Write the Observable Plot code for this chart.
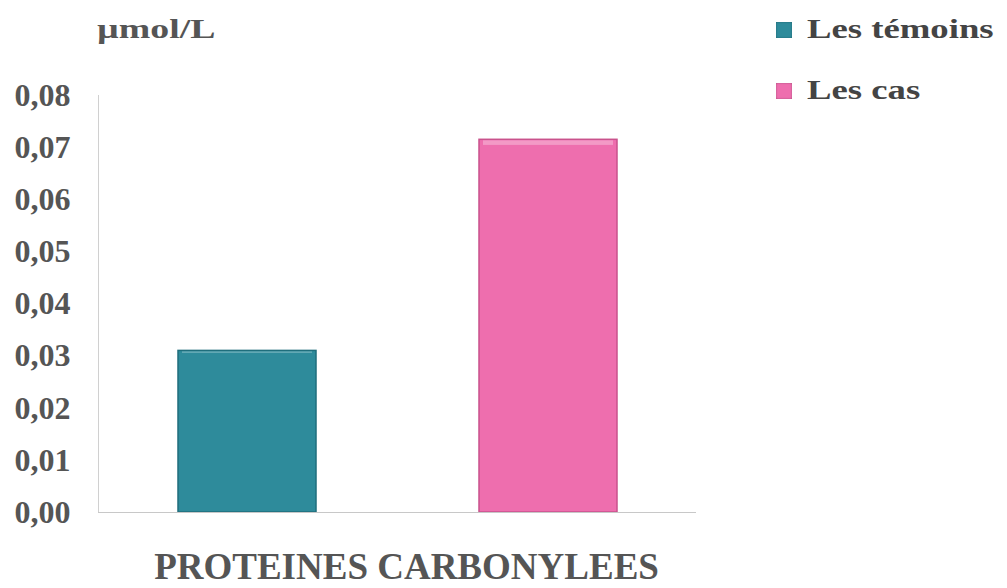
<!DOCTYPE html>
<html>
<head>
<meta charset="utf-8">
<script src="https://cdn.jsdelivr.net/npm/d3@7"></script>
<script src="https://cdn.jsdelivr.net/npm/@observablehq/plot@0.6"></script>
<style>
  body { margin: 0; background: #fff; }
  #wrap { position: relative; width: 1007px; height: 588px; overflow: hidden; font-family: "Liberation Serif", serif; }
  #chart { position: absolute; left: 0; top: 0; }
  #chart svg text { font-family: "Liberation Serif", serif; }
  .unit { position: absolute; left: 97px; top: 14px; font-size: 27px; font-weight: bold; color: #555; transform: scaleX(1.4); transform-origin: left center; white-space: nowrap; }
  .leg { position: absolute; left: 776px; display: flex; align-items: center; white-space: nowrap; }
  .leg .sw { width: 16px; height: 16px; margin-right: 15px; box-shadow: inset 0 0 2px rgba(0,0,0,0.35); }
  .leg .tx { font-size: 27px; font-weight: bold; color: #444; transform: scaleX(1.36); transform-origin: left center; }
</style>
</head>
<body>
<div id="wrap">
  <div id="chart"></div>
  <div class="unit" id="unit"></div>
  <div id="legend"></div>
</div>
<script>
const categories = ["PROTEINES CARBONYLEES"];
const series = ["Les témoins", "Les cas"];
const values = [0.031, 0.0715];
const colors = ["#2e8b9b", "#ee6eae"];
const strokes = ["#1f6e7c", "#c9528c"];
const yTicks = [0, 0.01, 0.02, 0.03, 0.04, 0.05, 0.06, 0.07, 0.08];
const unitLabel = "µmol/L";

const data = series.map((s, i) => ({group: categories[0], serie: s, value: values[i]}));

const chart = Plot.plot({
  width: 1007,
  height: 588,
  marginTop: 95,
  marginBottom: 76,
  marginLeft: 98,
  marginRight: 311,
  style: {fontFamily: "Liberation Serif", background: "transparent"},
  fx: {domain: categories, padding: 0, label: null},
  x: {domain: series, paddingInner: 0.543, paddingOuter: 0.262, axis: null},
  y: {domain: [0, 0.08], label: null},
  color: {domain: series, range: colors},
  marks: [
    Plot.axisY({ticks: yTicks, tickSize: 0, tickPadding: 28, tickFormat: d => d.toFixed(2).replace(".", ","),
      fontSize: 32, fontWeight: "bold", fontFamily: "Liberation Serif", fill: "#555", label: null}),
    Plot.axisFx({anchor: "bottom", tickSize: 0, tickPadding: 40, fontSize: 37, fontWeight: "bold",
      fontFamily: "Liberation Serif", fill: "#555", label: null, dx: 9}),
    Plot.frame({anchor: "left", stroke: "#d0d0d0"}),
    Plot.barY(data, {fx: "group", x: "serie", y: "value", fill: "serie",
      stroke: d => strokes[series.indexOf(d.serie)], strokeWidth: 1.5}),
    Plot.barY(data, {fx: "group", x: "serie", y1: d => d.value * 0.985, y2: "value", fill: "white", fillOpacity: 0.3,
      insetLeft: 4, insetRight: 4, insetTop: 1}),
    Plot.ruleY([0], {stroke: "#c8c8c8"})
  ]
});
document.getElementById("chart").appendChild(chart);
document.getElementById("unit").textContent = unitLabel;

const legend = document.getElementById("legend");
const legTops = [14, 75];
series.forEach((s, i) => {
  const row = document.createElement("div");
  row.className = "leg";
  row.style.top = legTops[i] + "px";
  const sw = document.createElement("div");
  sw.className = "sw";
  sw.style.background = colors[i];
  const tx = document.createElement("div");
  tx.className = "tx";
  tx.textContent = s;
  row.appendChild(sw);
  row.appendChild(tx);
  legend.appendChild(row);
});
</script>
</body>
</html>
